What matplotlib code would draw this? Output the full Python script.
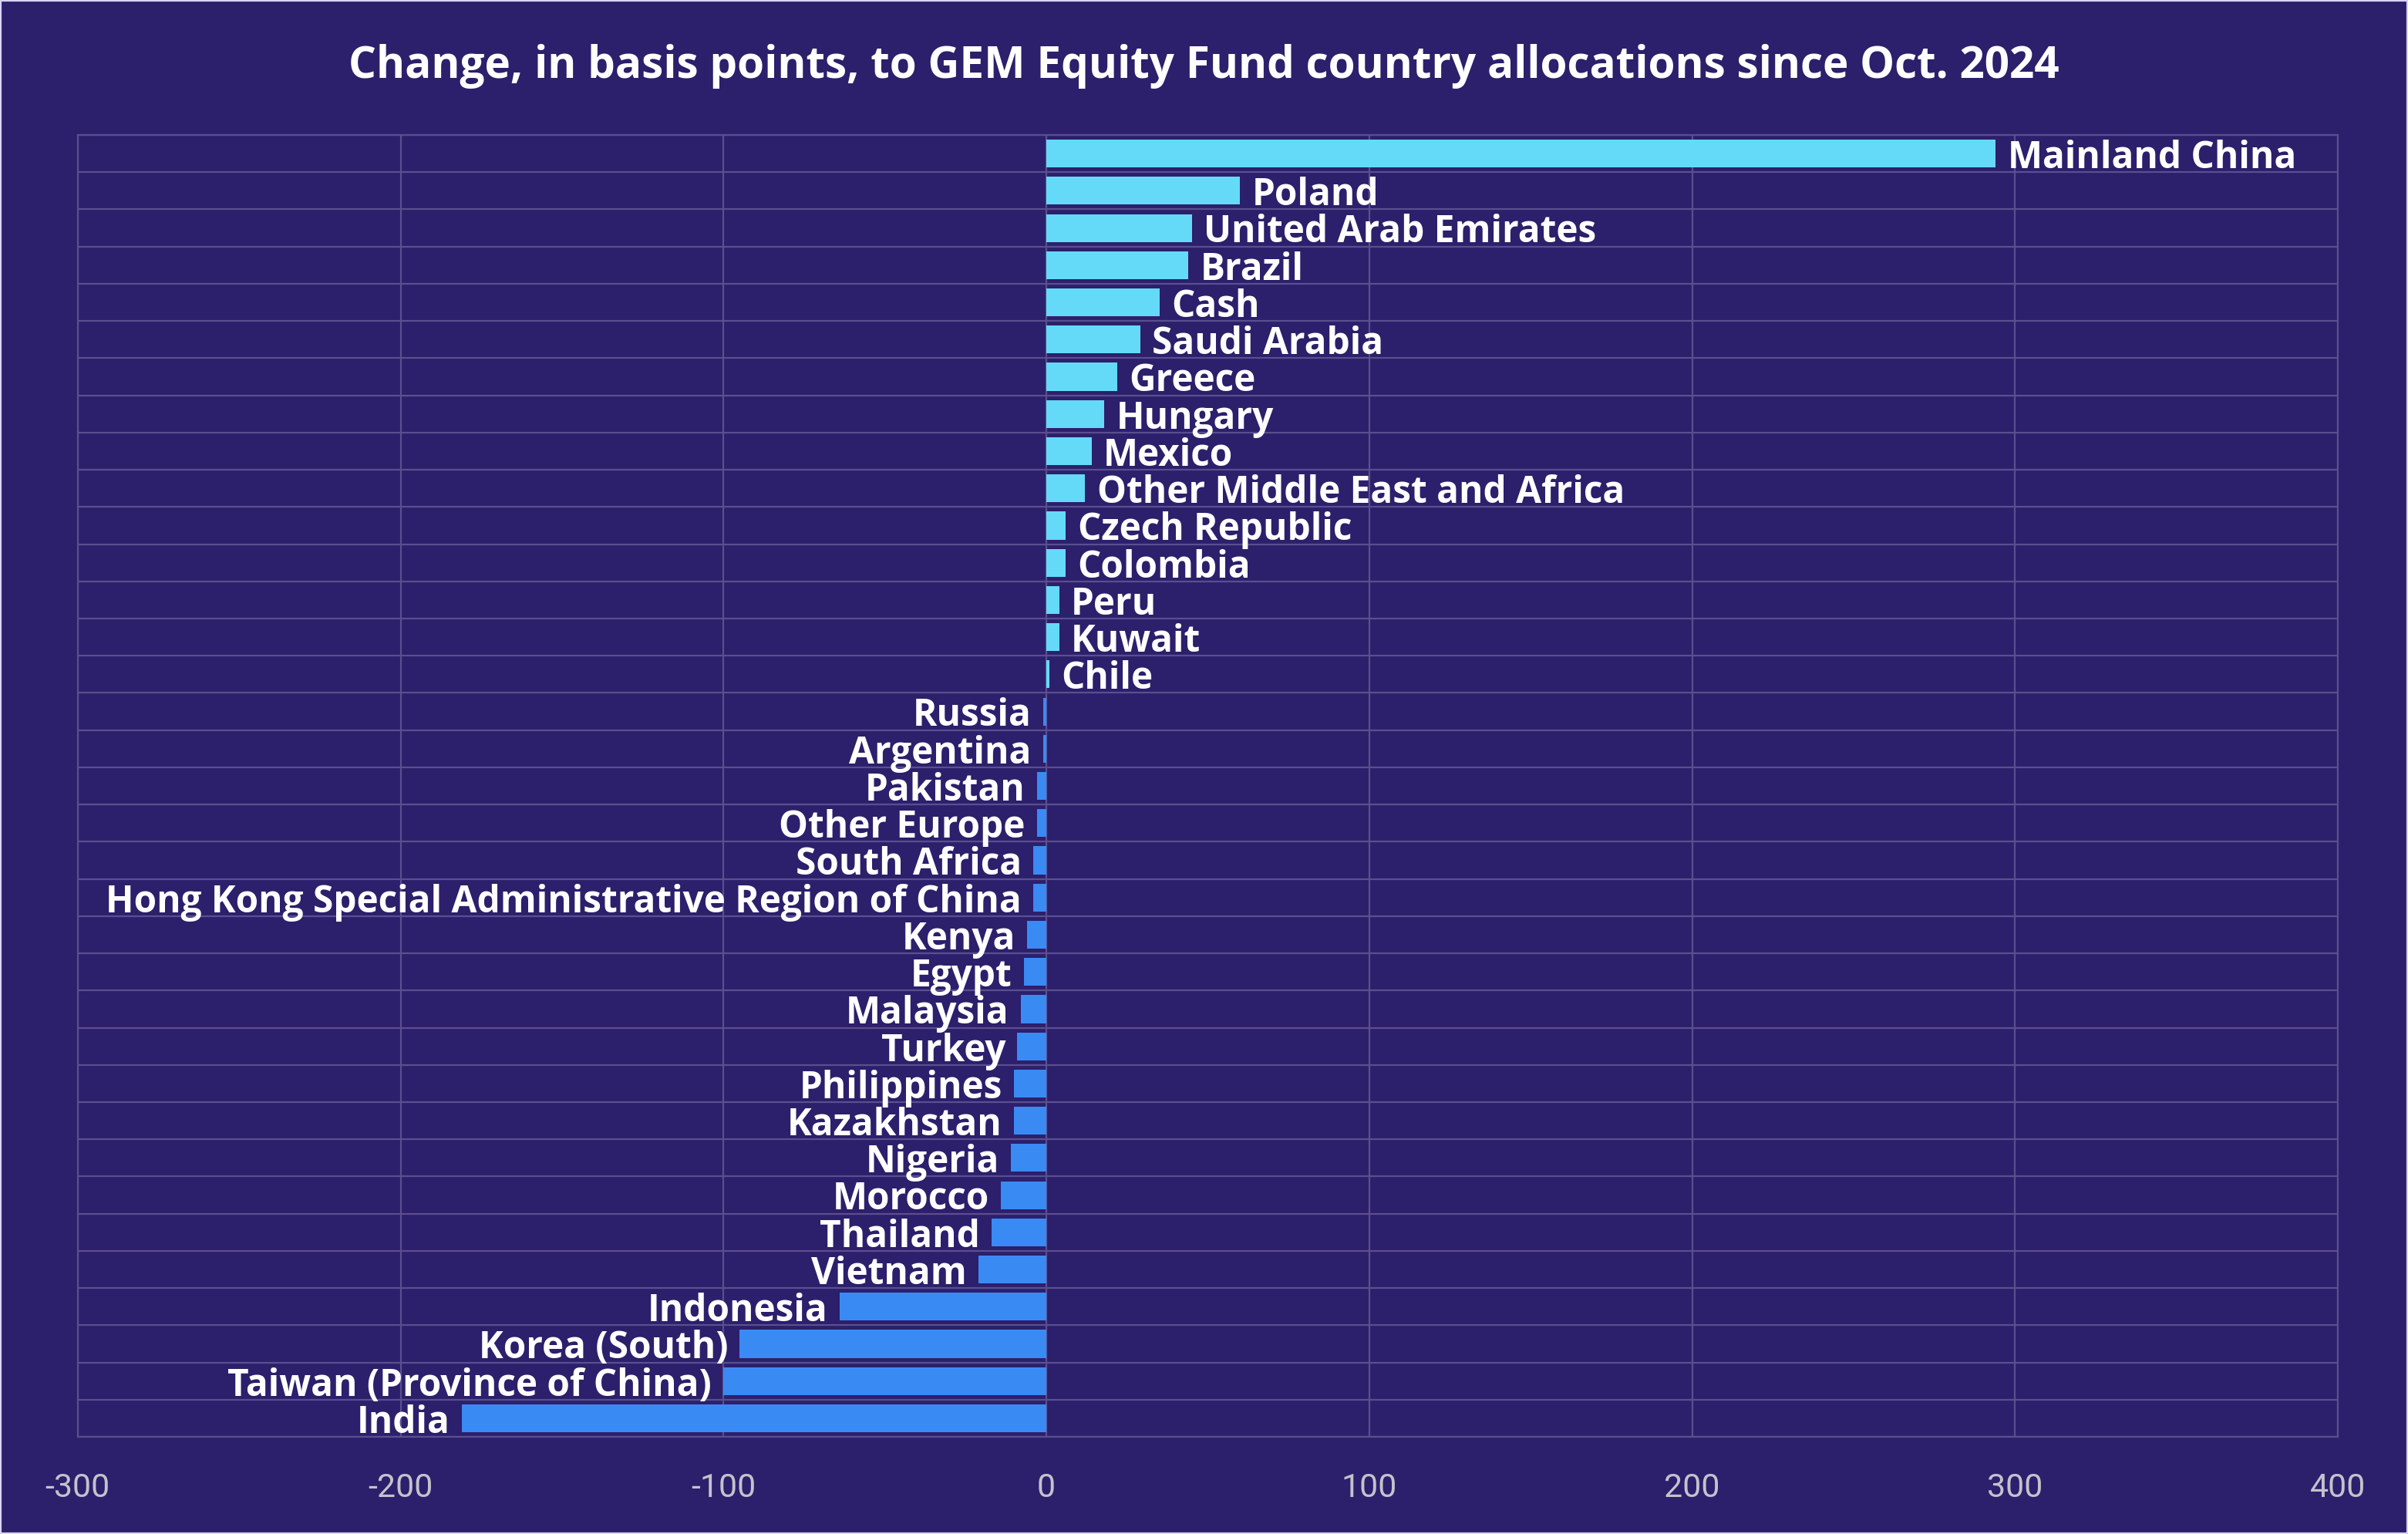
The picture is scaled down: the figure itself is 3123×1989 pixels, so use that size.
import matplotlib
matplotlib.use("Agg")
import matplotlib.pyplot as plt
from matplotlib.patches import Rectangle
import numpy as np

countries = [
    "Mainland China", "Poland", "United Arab Emirates", "Brazil", "Cash",
    "Saudi Arabia", "Greece", "Hungary", "Mexico", "Other Middle East and Africa",
    "Czech Republic", "Colombia", "Peru", "Kuwait", "Chile", "Russia",
    "Argentina", "Pakistan", "Other Europe", "South Africa",
    "Hong Kong Special Administrative Region of China", "Kenya", "Egypt",
    "Malaysia", "Turkey", "Philippines", "Kazakhstan", "Nigeria", "Morocco",
    "Thailand", "Vietnam", "Indonesia", "Korea (South)",
    "Taiwan (Province of China)", "India",
]
changes_bp = [
    294, 60, 45, 44, 35,
    29, 22, 18, 14, 12,
    6, 6, 4, 4, 1, -1,
    -1, -3, -3, -4,
    -4, -6, -7,
    -8, -9, -10, -10, -11, -14,
    -17, -21, -64, -95,
    -100, -181,
]
x_ticks = [-300, -200, -100, 0, 100, 200, 300, 400]
title = "Change, in basis points, to GEM Equity Fund country allocations since Oct. 2024"

BG = "#2c1f6b"
GRID = "#5a4f8f"
POS = "#64daf8"
NEG = "#3a8af4"
LABEL_FONT = ["Open Sans", "DejaVu Sans"]
TICK_FONT = ["Roboto", "DejaVu Sans"]

plt.rcParams["axes.unicode_minus"] = False

fig = plt.figure(figsize=(15.615, 9.945), dpi=200, facecolor=BG)
ax = fig.add_axes([0.0323, 0.0633, 0.9386, 0.8487])
ax.set_facecolor(BG)

y = np.arange(len(countries))
colors = [POS if v >= 0 else NEG for v in changes_bp]
ax.barh(y, changes_bp, height=0.75, color=colors, zorder=3)

ax.set_xlim(x_ticks[0], x_ticks[-1])
ax.set_ylim(len(countries) - 0.5, -0.5)
ax.set_xticks(x_ticks)
ax.set_xticklabels([str(t) for t in x_ticks], fontfamily=TICK_FONT,
                   fontsize=15.5, color="#c4c2cc")
ax.set_yticks([])
ax.set_yticks(np.arange(len(countries) + 1) - 0.5, minor=True)
ax.tick_params(axis="x", length=0, pad=16.5)
ax.tick_params(axis="y", which="both", length=0, labelleft=False)
ax.grid(True, axis="x", which="major", color=GRID, linewidth=0.8, zorder=1)
ax.grid(True, axis="y", which="minor", color=GRID, linewidth=0.8, zorder=1)
for s in ax.spines.values():
    s.set_color(GRID)
    s.set_linewidth(0.8)

for yi, v, name in zip(y, changes_bp, countries):
    if v >= 0:
        ax.annotate(name, (v, yi), xytext=(5.5, -2.3), textcoords="offset points",
                    ha="left", va="center", color="white", fontsize=17.2,
                    fontweight="bold", fontfamily=LABEL_FONT, zorder=4)
    else:
        ax.annotate(name, (v, yi), xytext=(-5.5, -2.3), textcoords="offset points",
                    ha="right", va="center", color="white", fontsize=17.2,
                    fontweight="bold", fontfamily=LABEL_FONT, zorder=4)

fig.text(0.5, 0.957, title, ha="center", va="center", color="white",
         fontsize=20.4, fontweight="bold", fontfamily=LABEL_FONT)

fig.patches.append(Rectangle((0, 0), 1, 1, transform=fig.transFigure,
                             fill=False, edgecolor="#d9d4f7", linewidth=1.5,
                             zorder=10))

fig.savefig("out.png", dpi=200, facecolor=BG)
